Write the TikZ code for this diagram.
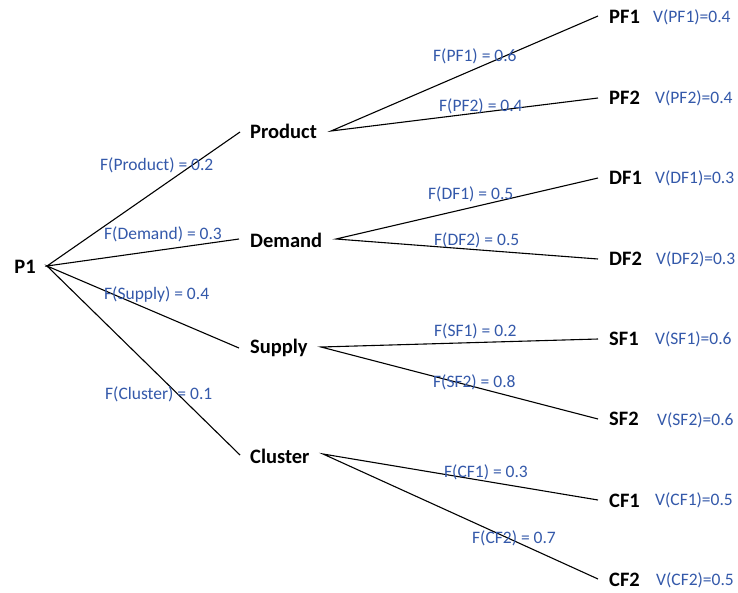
\documentclass[tikz,border=0pt]{standalone}
\usepackage{fontspec}
\setmainfont{Carlito}
\definecolor{lblue}{RGB}{52,89,170}
\tikzset{
  lvl/.style={anchor=west, inner sep=0pt, font=\fontsize{20.5}{22}\selectfont\bfseries, text=black},
  flab/.style={anchor=west, inner sep=0pt, font=\fontsize{17.5}{20}\selectfont, text=lblue},
  vlab/.style={anchor=west, inner sep=0pt, font=\fontsize{17.5}{20}\selectfont, text=lblue},
  edge/.style={draw=black, line width=1.1pt}
}
\begin{document}
\begin{tikzpicture}[x=1pt,y=-1pt]
\useasboundingbox[fill=white] (0,0) rectangle (738,592);
% root
\node[lvl, anchor=center] (P1) at (25,267) {P1};
\coordinate (p1o) at (47,266);
% level 1
\node[lvl] (Product) at (250,131) {Product};
\node[lvl] (Demand) at (250,240) {Demand};
\node[lvl] (Supply) at (250,348) {Supply};
\node[lvl] (Cluster) at (250,456) {Cluster};
\coordinate (prodi) at (240,132);
\coordinate (demi) at (239,239);
\coordinate (supi) at (239,348);
\coordinate (clui) at (240,455);
\coordinate (prodo) at (331,131);
\coordinate (demo) at (336,239);
\coordinate (supo) at (321,347);
\coordinate (cluo) at (323,454);
% level 2
\node[lvl] (PF1) at (609,17) {PF1};
\node[lvl] (PF2) at (609,98) {PF2};
\node[lvl] (DF1) at (609,178) {DF1};
\node[lvl] (DF2) at (609,259) {DF2};
\node[lvl] (SF1) at (609,339) {SF1};
\node[lvl] (SF2) at (609,419) {SF2};
\node[lvl] (CF1) at (609,501) {CF1};
\node[lvl] (CF2) at (609,580) {CF2};
\coordinate (pf1i) at (598,16);
\coordinate (pf2i) at (598,98);
\coordinate (df1i) at (598,178);
\coordinate (df2i) at (598,259);
\coordinate (sf1i) at (598,339);
\coordinate (sf2i) at (598,419);
\coordinate (cf1i) at (598,500);
\coordinate (cf2i) at (598,579);
% values
\node[vlab] (vpf1) at (653,17) {V(PF1)=0.4};
\node[vlab] (vpf2) at (655,98) {V(PF2)=0.4};
\node[vlab] (vdf1) at (655,178) {V(DF1)=0.3};
\node[vlab] (vdf2) at (656,259) {V(DF2)=0.3};
\node[vlab] (vsf1) at (655,339) {V(SF1)=0.6};
\node[vlab] (vsf2) at (657,420) {V(SF2)=0.6};
\node[vlab] (vcf1) at (655,500) {V(CF1)=0.5};
\node[vlab] (vcf2) at (656,580) {V(CF2)=0.5};
% edges
\draw[edge] (prodi) -- (p1o) -- (demi);
\draw[edge] (supi) -- (p1o) -- (clui);
\draw[edge] (pf1i) -- (prodo) -- (pf2i);
\draw[edge] (df1i) -- (demo) -- (df2i);
\draw[edge] (sf1i) -- (supo) -- (sf2i);
\draw[edge] (cf1i) -- (cluo) -- (cf2i);
% F labels
\node[flab] (fprod) at (100,165) {F(Product) = 0.2};
\node[flab] (fdem) at (104,234) {F(Demand) = 0.3};
\node[flab] (fsup) at (104,295) {F(Supply) = 0.4};
\node[flab] (fclu) at (105,394) {F(Cluster) = 0.1};
\node[flab] (fpf1) at (433,56) {F(PF1) = 0.6};
\node[flab] (fpf2) at (439,106) {F(PF2) = 0.4};
\node[flab] (fdf1) at (428,194) {F(DF1) = 0.5};
\node[flab] (fdf2) at (434,240) {F(DF2) = 0.5};
\node[flab] (fsf1) at (434,331) {F(SF1) = 0.2};
\node[flab] (fsf2) at (433,382) {F(SF2) = 0.8};
\node[flab] (fcf1) at (444,472) {F(CF1) = 0.3};
\node[flab] (fcf2) at (472,538) {F(CF2) = 0.7};
\end{tikzpicture}
\end{document}
